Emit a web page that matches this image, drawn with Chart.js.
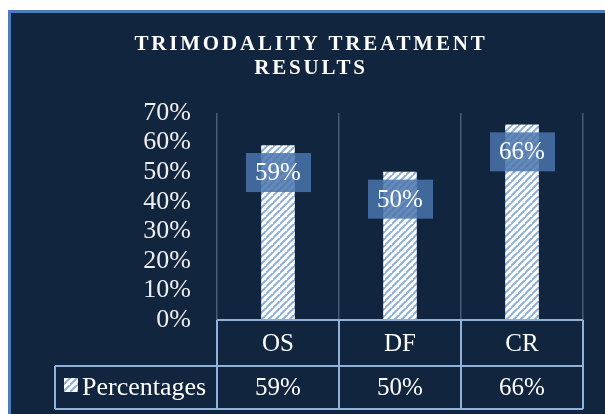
<!DOCTYPE html>
<html>
<head>
<meta charset="utf-8">
<script src="https://cdn.jsdelivr.net/npm/chart.js@4.4.1/dist/chart.umd.min.js"></script>
<style>
    html, body { margin: 0; padding: 0; background: #ffffff; }
    #wrap { position: relative; width: 605px; height: 414px; }
</style>
</head>
<body>
<div id="wrap"><canvas id="graphique" width="605" height="414"></canvas></div>
<script>
const categories = ['OS', 'DF', 'CR'];
const percentages = [0.59, 0.50, 0.66];
const tickValues = [0, 0.1, 0.2, 0.3, 0.4, 0.5, 0.6, 0.7];
const seriesName = 'Percentages';
const titleLines = ['TRIMODALITY TREATMENT', 'RESULTS'];

const navy = '#12253f';
const tableLine = '#8fb1da';
const serif = '"Liberation Serif", "Times New Roman", serif';

function makeHatch(ctx) {
    let s = 7;
    let c = document.createElement('canvas');
    c.width = s; c.height = s;
    let p = c.getContext('2d');
    p.fillStyle = '#ffffff';
    p.fillRect(0, 0, s, s);
    p.strokeStyle = '#8fb0da';
    p.lineWidth = 2;
    p.beginPath();
    p.moveTo(-2, s + 2); p.lineTo(s + 2, -2);
    p.moveTo(-2 - s, s + 2); p.lineTo(2, -2);
    p.moveTo(s - 2, 2 * s + 2); p.lineTo(2 * s + 2, s - 2);
    p.stroke();
    return ctx.createPattern(c, 'repeat');
}

function pct(v) { return Math.round(v * 100) + '%'; }

// fond + cadre bleu
const fond = {
    id: 'fond',
    beforeDraw(chart) {
        let ctx = chart.ctx;
        ctx.save();
        ctx.fillStyle = '#ffffff';
        ctx.fillRect(0, 0, chart.width, chart.height);
        ctx.fillStyle = navy;
        ctx.fillRect(9, 10, chart.width - 9, chart.height - 10);
        ctx.strokeStyle = '#4d7cbc';
        ctx.lineWidth = 3;
        ctx.beginPath();
        ctx.moveTo(9.5, chart.height);
        ctx.lineTo(9.5, 11.5);
        ctx.lineTo(chart.width, 11.5);
        ctx.stroke();
        ctx.restore();
    }
};

// titre, etiquettes et tableau de donnees
const extras = {
    id: 'extras',
    afterDraw(chart) {
        let ctx = chart.ctx;
        let x = chart.scales.x;
        let area = chart.chartArea;
        let meta = chart.getDatasetMeta(0);
        ctx.save();

        ctx.fillStyle = '#ffffff';
        ctx.font = 'bold 21px ' + serif;
        ctx.letterSpacing = '2.8px';
        ctx.textAlign = 'center';
        ctx.textBaseline = 'middle';
        ctx.fillText(titleLines[0], 311, 45);
        ctx.fillText(titleLines[1], 311, 69);
        ctx.letterSpacing = '0px';

        ctx.font = '25px ' + serif;
        meta.data.forEach((bar, i) => {
            let cy = bar.y + 27;
            ctx.fillStyle = 'rgba(74, 116, 172, 0.85)';
            ctx.fillRect(bar.x - 32, cy - 19.5, 65, 39);
            ctx.fillStyle = '#ffffff';
            ctx.fillText(pct(percentages[i]), bar.x, cy + 1);
        });

        let w = (area.right - area.left) / categories.length;
        let r1 = area.bottom, r2 = area.bottom + 46, r3 = area.bottom + 89;
        let tableLeft = 55;
        ctx.strokeStyle = tableLine;
        ctx.lineWidth = 2;
        ctx.beginPath();
        ctx.moveTo(area.left, r1); ctx.lineTo(area.right, r1);
        ctx.moveTo(tableLeft, r2); ctx.lineTo(area.right, r2);
        ctx.moveTo(tableLeft, r3); ctx.lineTo(area.right, r3);
        ctx.moveTo(tableLeft, r2); ctx.lineTo(tableLeft, r3);
        for (let i = 0; i <= categories.length; i++) {
            let bx = area.left + i * w;
            ctx.moveTo(bx, r1); ctx.lineTo(bx, r3);
        }
        ctx.stroke();

        ctx.fillStyle = '#ffffff';
        categories.forEach((c, i) => {
            let cx = x.getPixelForValue(i);
            ctx.fillText(c, cx, (r1 + r2) / 2 + 1);
            ctx.fillText(pct(percentages[i]), cx, (r2 + r3) / 2 + 1);
        });

        ctx.fillStyle = chart.data.datasets[0].backgroundColor;
        ctx.fillRect(64, 378, 14, 14);
        ctx.fillStyle = '#ffffff';
        ctx.textAlign = 'left';
        ctx.font = '26px ' + serif;
        ctx.fillText(seriesName, 82, (r2 + r3) / 2 + 1);
        ctx.restore();
    }
};

let ctx = document.getElementById('graphique').getContext('2d');

window.myChart = new Chart(ctx, {
    type: 'bar',
    data: {
        labels: categories,
        datasets: [{
            label: seriesName,
            data: percentages,
            backgroundColor: makeHatch(ctx),
            borderWidth: 0,
            barThickness: 33
        }]
    },
    options: {
        responsive: false,
        animation: false,
        layout: { padding: { top: 113, right: 22, bottom: 94, left: 0 } },
        plugins: {
            legend: { display: false },
            title: { display: false },
            tooltip: { enabled: false }
        },
        scales: {
            x: {
                offset: true,
                grid: { offset: true, color: '#4b5b72', lineWidth: 1.5, drawTicks: false },
                border: { display: false },
                ticks: { display: false }
            },
            y: {
                min: 0,
                max: 0.7,
                afterFit(scale) { scale.width = 217; },
                afterBuildTicks(scale) { scale.ticks = tickValues.map(v => ({ value: v })); },
                grid: { display: false },
                border: { display: false },
                ticks: {
                    autoSkip: false,
                    padding: 18,
                    color: '#eeeeee',
                    font: { family: serif, size: 26 },
                    callback: v => pct(v)
                }
            }
        }
    },
    plugins: [fond, extras]
});
</script>
</body>
</html>
